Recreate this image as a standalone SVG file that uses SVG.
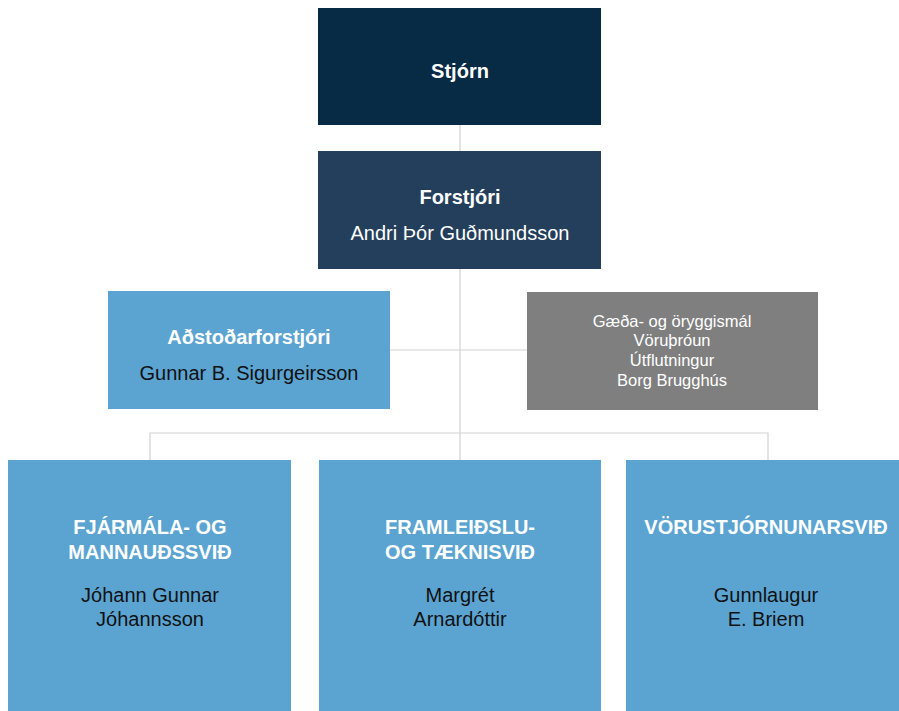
<svg xmlns="http://www.w3.org/2000/svg" width="899" height="711" viewBox="0 0 899 711">
<style>
text{font-family:"Liberation Sans",Arial,sans-serif;text-anchor:middle;dominant-baseline:central}
.b{font-weight:bold;fill:#fff;font-size:20px}
.w{fill:#fff;font-size:20px}
.k{fill:#111;font-size:20px}
.s{fill:#fff;font-size:16.5px}
.ln{stroke:#d3d3d3;stroke-width:1.2;fill:none}
</style>
<rect width="899" height="711" fill="#fff"/>
<g id="connectors">
<line class="ln" x1="460" y1="125" x2="460" y2="151"/>
<line class="ln" x1="460" y1="269" x2="460" y2="460"/>
<line class="ln" x1="390" y1="350" x2="527" y2="350"/>
<polyline class="ln" points="150,460 150,433 768,433 768,460"/>
</g>
<g id="stjorn">
<rect x="318" y="8" width="283" height="117" fill="#072a45"/>
<text class="b" x="460" y="71">Stjórn</text>
</g>
<g id="forstjori">
<rect x="318" y="151" width="283" height="118" fill="#243f5c"/>
<text class="b" x="460" y="197">Forstjóri</text>
<text class="w" x="460" y="233">Andri Þór Guðmundsson</text>
</g>
<g id="adstod">
<rect x="108" y="291" width="282" height="118" fill="#5ba4d1"/>
<text class="b" x="249" y="337">Aðstoðarforstjóri</text>
<text class="k" x="249" y="373">Gunnar B. Sigurgeirsson</text>
</g>
<g id="stodsvid">
<rect x="527" y="292" width="291" height="118" fill="#7f7f7f"/>
<text class="s" x="672" y="321">Gæða- og öryggismál</text>
<text class="s" x="672" y="340">Vöruþróun</text>
<text class="s" x="672" y="360">Útflutningur</text>
<text class="s" x="672" y="380">Borg Brugghús</text>
</g>
<g id="fjarmal">
<rect x="8" y="460" width="283" height="251" fill="#5ba4d1"/>
<text class="b" x="150" y="527">FJÁRMÁLA- OG</text>
<text class="b" x="150" y="552">MANNAUÐSSVIÐ</text>
<text class="k" x="150" y="595">Jóhann Gunnar</text>
<text class="k" x="150" y="619">Jóhannsson</text>
</g>
<g id="framleidsla">
<rect x="319" y="460" width="282" height="251" fill="#5ba4d1"/>
<text class="b" x="460" y="527">FRAMLEIÐSLU-</text>
<text class="b" x="460" y="552">OG TÆKNISVIÐ</text>
<text class="k" x="460" y="595">Margrét</text>
<text class="k" x="460" y="619">Arnardóttir</text>
</g>
<g id="vorustjorn">
<rect x="626" y="460" width="273" height="251" fill="#5ba4d1"/>
<text class="b" x="766" y="527">VÖRUSTJÓRNUNARSVIÐ</text>
<text class="k" x="766" y="595">Gunnlaugur</text>
<text class="k" x="766" y="619">E. Briem</text>
</g>
</svg>
